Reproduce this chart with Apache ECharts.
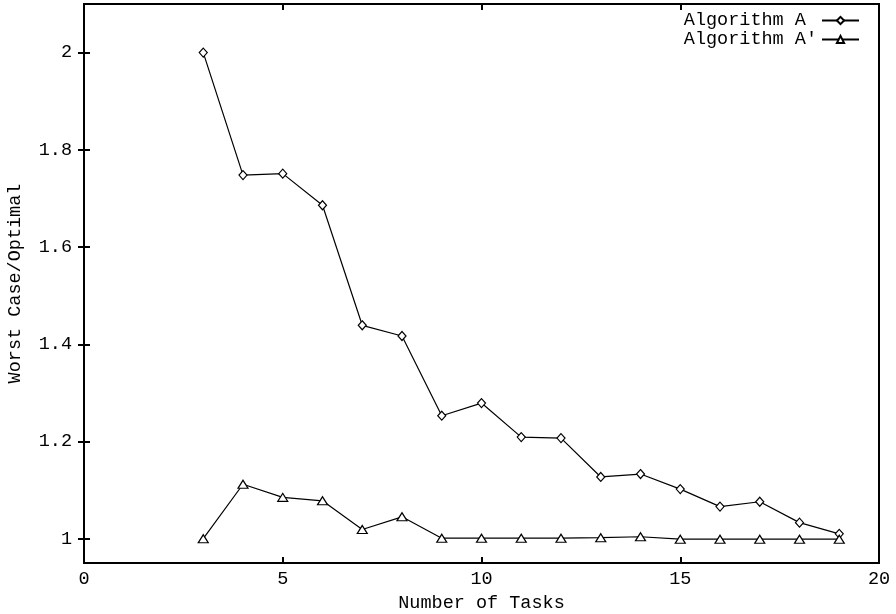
<!DOCTYPE html>
<html>
<head>
    <meta charset="utf-8">
    <title>Worst Case / Optimal</title>
    <script src="https://cdn.jsdelivr.net/npm/echarts@6/dist/echarts.min.js"></script>
    <style>
        html, body { margin: 0; padding: 0; background: #fff; }
    </style>
</head>
<body>
<div id="main" style="width: 896px;height: 614px;"></div>
<script>
    // data
    var taskCounts = [3, 4, 5, 6, 7, 8, 9, 10, 11, 12, 13, 14, 15, 16, 17, 18, 19];
    var algoA = [2.0, 1.748, 1.751, 1.686, 1.439, 1.417, 1.253, 1.279, 1.209, 1.207, 1.127, 1.133, 1.102, 1.066, 1.076, 1.033, 1.010];
    var algoAPrime = [1.0, 1.112, 1.085, 1.078, 1.019, 1.045, 1.001, 1.001, 1.001, 1.001, 1.002, 1.004, 0.999, 0.999, 0.999, 0.999, 0.999];
    var yTickValues = [1, 1.2, 1.4, 1.6, 1.8, 2];
    var seriesNames = ['Algorithm A', "Algorithm A'"];

    var font = 'Liberation Mono';
    var fontSize = 18.5;

    function pairs(ys) {
        return taskCounts.map(function (x, i) { return [x, ys[i]]; });
    }

    var myChart = echarts.init(document.getElementById('main'));

    var xBase = {
        type: 'value',
        min: 0,
        max: 20,
        interval: 5,
        splitLine: { show: false },
        axisLine: { show: true, lineStyle: { color: '#000', width: 2 } },
        axisTick: { show: true, inside: true, length: 6, lineStyle: { color: '#000', width: 2 } }
    };
    var yBase = {
        type: 'value',
        min: 0.95,
        max: 2.1,
        splitLine: { show: false },
        axisLine: { show: true, lineStyle: { color: '#000', width: 2 } },
        axisTick: { show: true, inside: true, length: 6, customValues: yTickValues, lineStyle: { color: '#000', width: 2 } }
    };

    var option = {
        animation: false,
        backgroundColor: '#fff',
        grid: {
            left: 84,
            top: 4,
            right: 17,
            bottom: 51,
            show: true,
            borderColor: '#000',
            borderWidth: 2,
            containLabel: false,
            outerBoundsMode: 'none'
        },
        legend: {
            orient: 'vertical',
            right: 36,
            top: 11,
            padding: 0,
            align: 'right',
            itemGap: 0,
            itemWidth: 37,
            itemHeight: 9,
            // pad names so the texts line up on the left like the original key
            formatter: function (name) { return name.padEnd(12, ' '); },
            textStyle: { fontFamily: font, fontSize: fontSize, color: '#000' },
            data: seriesNames
        },
        xAxis: [
            Object.assign({}, xBase, {
                position: 'bottom',
                name: 'Number of Tasks',
                nameLocation: 'middle',
                nameGap: 31,
                nameTextStyle: { fontFamily: font, fontSize: fontSize, color: '#000' },
                axisLabel: { fontFamily: font, fontSize: fontSize, color: '#000', margin: 7 }
            }),
            Object.assign({}, xBase, {
                position: 'top',
                axisLabel: { show: false }
            })
        ],
        yAxis: [
            Object.assign({}, yBase, {
                position: 'left',
                name: 'Worst Case/Optimal',
                nameLocation: 'middle',
                nameGap: 59,
                nameTextStyle: { fontFamily: font, fontSize: fontSize, color: '#000' },
                axisLabel: { fontFamily: font, fontSize: fontSize, color: '#000', margin: 12, customValues: yTickValues }
            }),
            Object.assign({}, yBase, {
                position: 'right',
                axisLabel: { show: false, customValues: yTickValues }
            })
        ],
        series: [
            {
                name: seriesNames[0],
                type: 'line',
                data: pairs(algoA),
                symbol: 'diamond',
                symbolSize: [8, 9],
                showAllSymbol: true,
                lineStyle: { color: '#000', width: 1.2 },
                itemStyle: { color: '#fff', borderColor: '#000', borderWidth: 1.2 },
                emphasis: { disabled: true }
            },
            {
                name: seriesNames[1],
                type: 'line',
                data: pairs(algoAPrime),
                symbol: 'triangle',
                symbolSize: [10, 8],
                showAllSymbol: true,
                lineStyle: { color: '#000', width: 1.2 },
                itemStyle: { color: '#fff', borderColor: '#000', borderWidth: 1.2 },
                emphasis: { disabled: true }
            }
        ]
    };

    myChart.setOption(option);
</script>
</body>
</html>
